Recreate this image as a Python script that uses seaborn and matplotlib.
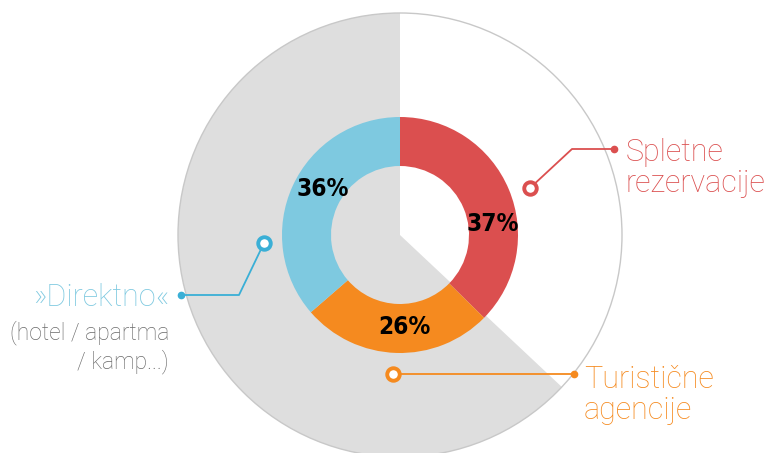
import matplotlib
matplotlib.use("Agg")
import matplotlib.pyplot as plt
import seaborn as sns
from matplotlib.patches import Circle

# data
labels = ["Spletne\nrezervacije", "Turistične\nagencije", "»Direktno«"]
shares = [37, 26, 36]
pct_text = ["37%", "26%", "36%"]
colors = ["#DB4F4F", "#F58A1F", "#7EC9E0"]
line_colors = ["#DB4F4F", "#F58A1F", "#3AAFD6"]
grey = "#DEDEDE"

sns.set_style("white")
plt.rcParams["font.family"] = ["Roboto", "DejaVu Sans"]

W, H = 770, 453
fig = plt.figure(figsize=(W / 100, H / 100), dpi=100)
ax = fig.add_axes([0, 0, 1, 1])

cx, cy = 400, H - 235
R_big, R_out, ring = 222, 118, 49

def py(y):
    return H - y

# background pie: white sector = first share, grey rest
ax.pie([shares[0], 100 - shares[0]], colors=["white", grey], startangle=90,
       counterclock=False, radius=R_big, center=(cx, cy), frame=True,
       wedgeprops={"linewidth": 0})
ax.add_patch(Circle((cx, cy), R_big, fill=False, edgecolor="#C8C8C8", lw=1.0, zorder=3))

# donut
ax.pie(shares, colors=colors, startangle=90, counterclock=False, radius=R_out,
       center=(cx, cy), frame=True, wedgeprops={"width": ring, "linewidth": 0})
ax.set_xlim(0, W)
ax.set_ylim(0, H)
ax.set_aspect("equal")
ax.axis("off")

pct_pos = [(493, 224), (404, 327), (323, 189)]
for t, (x, y) in zip(pct_text, pct_pos):
    ax.text(x, py(y), t, ha="center", va="center", fontsize=17.5, fontweight="bold",
            family=["DejaVu Sans"], fontstretch="condensed", color="black", zorder=5)

# leader lines: ring marker -> elbow -> dot
leaders = [
    [(530, 188), (572, 149), (614, 149)],
    [(393, 374), (574, 374)],
    [(264, 243), (239, 295), (181, 295)],
]
for pts, c in zip(leaders, line_colors):
    xs = [p[0] for p in pts]
    ys = [py(p[1]) for p in pts]
    ax.plot(xs, ys, color=c, lw=1.3, zorder=6, solid_capstyle="round")
    ax.plot(xs[0], ys[0], "o", ms=9, mfc="white", mec=c, mew=2.8, zorder=7)
    ax.plot(xs[-1], ys[-1], "o", ms=4.5, color=c, zorder=7)

txt_kw = dict(fontsize=22, fontweight="light", linespacing=1.12, zorder=6)
ax.text(626, py(168), labels[0], ha="left", va="center", color="#DB4F4F", **txt_kw)
ax.text(584, py(395), labels[1], ha="left", va="center", color="#F58A1F", **txt_kw)
ax.text(169, py(297), labels[2], ha="right", va="center", color="#7EC9E0", **txt_kw)
ax.text(169, py(347), "(hotel / apartma\n/ kamp...)", ha="right", va="center",
        color="#6A6A6A", fontsize=16.5, fontweight="light", linespacing=1.2, zorder=6)

fig.savefig("out.png", dpi=100)
